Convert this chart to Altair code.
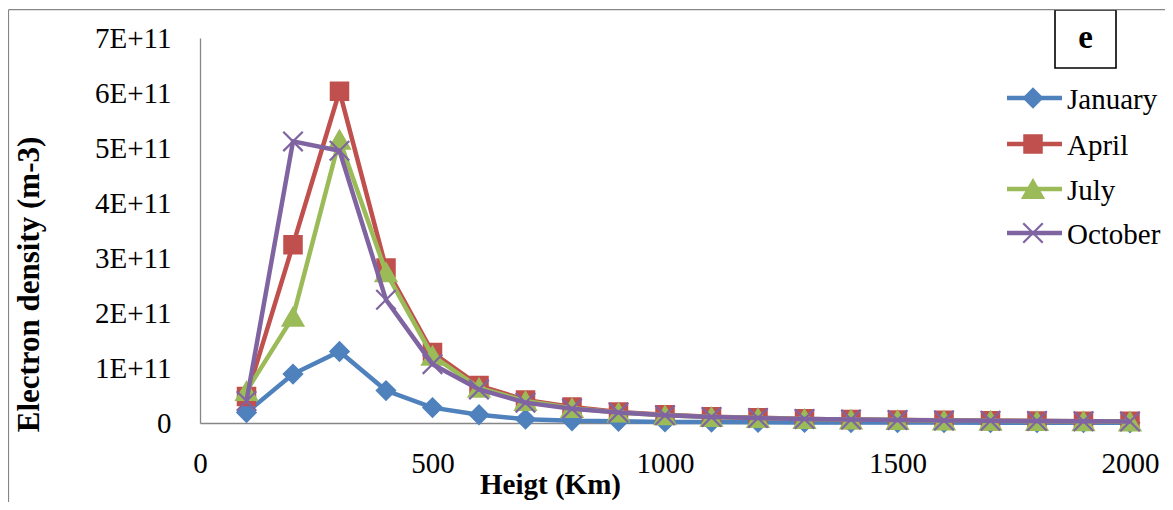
import altair as alt
import pandas as pd

# ---------------- data (electron density in units of 1E+11 m-3) ----------------
heights = [100, 200, 300, 400, 500, 600, 700, 800, 900, 1000,
           1100, 1200, 1300, 1400, 1500, 1600, 1700, 1800, 1900, 2000]
months = ["January", "April", "July", "October"]
january = [0.19, 0.89, 1.30, 0.59, 0.28, 0.15, 0.07, 0.04, 0.03, 0.02,
           0.016, 0.013, 0.011, 0.009, 0.008, 0.007, 0.006, 0.005, 0.005, 0.004]
april = [0.48, 3.24, 6.03, 2.82, 1.28, 0.68, 0.42, 0.29, 0.20, 0.15,
         0.115, 0.095, 0.075, 0.065, 0.055, 0.048, 0.042, 0.037, 0.033, 0.030]
july = [0.58, 1.93, 5.15, 2.74, 1.22, 0.64, 0.40, 0.27, 0.19, 0.14,
        0.11, 0.09, 0.072, 0.062, 0.053, 0.046, 0.040, 0.035, 0.031, 0.028]
october = [0.40, 5.12, 4.95, 2.24, 1.07, 0.61, 0.37, 0.26, 0.19, 0.14,
           0.11, 0.09, 0.072, 0.062, 0.053, 0.046, 0.040, 0.035, 0.031, 0.028]
series_values = [january, april, july, october]

colors = ["#4F81BD", "#C0504D", "#9BBB59", "#8064A2"]
shapes = ["diamond", "square", "triangle-up", "M-1,-1L1,1M-1,1L1,-1"]
marker_sizes = [330, 300, 420, 380]
y_ticks = [0, 1, 2, 3, 4, 5, 6, 7]
x_ticks = [0, 500, 1000, 1500, 2000]
panel_label = "e"
x_title = "Heigt (Km)"
y_title = "Electron density (m-3)"

rows = []
for m, vals in zip(months, series_values):
    for h, v in zip(heights, vals):
        rows.append({"month": m, "height": h, "density": v})
df = pd.DataFrame(rows)
legend_df = pd.DataFrame({"month": months})

FONT = "'Liberation Serif', 'Times New Roman', serif"
W, H = 930, 385
AXIS_GREY = "#868686"

x_enc = alt.X(
    "height:Q",
    scale=alt.Scale(domain=[0, 2000], nice=False, zero=False),
    axis=alt.Axis(
        values=x_ticks, format="d", title=x_title, grid=False, ticks=False,
        domainColor=AXIS_GREY, domainWidth=1.3,
        labelFont=FONT, labelFontSize=29, labelColor="black",
        labelPadding=26, labelFlush=False,
        titleFont=FONT, titleFontSize=29, titleFontWeight="bold",
        titleColor="black", titleX=350, titleY=70,
        titleBaseline="alphabetic", titleAlign="center",
    ),
)
y_enc = alt.Y(
    "density:Q",
    scale=alt.Scale(domain=[0, 7], nice=False),
    axis=alt.Axis(
        values=y_ticks, title=y_title, grid=False, ticks=False,
        domainColor=AXIS_GREY, domainWidth=1.3,
        labelExpr="datum.value == 0 ? '0' : datum.value + 'E+11'",
        labelFont=FONT, labelFontSize=29, labelColor="black",
        labelPadding=29,
        titleFont=FONT, titleFontSize=31, titleFontWeight="bold",
        titleColor="black", titleX=-162, titleY=246, titleAngle=270,
        titleBaseline="alphabetic", titleAlign="center",
    ),
)
color_enc = alt.Color("month:N", scale=alt.Scale(domain=months, range=colors), legend=None)
stroke_enc = alt.Stroke("month:N", scale=alt.Scale(domain=months, range=colors), legend=None)
shape_enc = alt.Shape("month:N", scale=alt.Scale(domain=months, range=shapes), legend=None)

layers = []
for i, m in enumerate(months):
    base = alt.Chart(df).transform_filter(alt.datum.month == m)
    layers.append(base.mark_line(strokeWidth=4.5).encode(x=x_enc, y=y_enc, color=color_enc))
    layers.append(
        base.mark_point(filled=True, opacity=1, strokeWidth=2.2, size=marker_sizes[i]).encode(
            x=x_enc, y=y_enc, fill=color_enc, stroke=stroke_enc, shape=shape_enc
        )
    )

# ---------------- manual legend ----------------
legend_rows = [60, 106, 151, 195]
for i, m in enumerate(months):
    lb = alt.Chart(legend_df).transform_filter(alt.datum.month == m)
    layers.append(
        lb.mark_rule(strokeWidth=4.5, color=colors[i]).encode(
            x=alt.value(807), x2=alt.value(862), y=alt.value(legend_rows[i])
        )
    )
    layers.append(
        lb.mark_point(filled=True, opacity=1, strokeWidth=2.2, size=marker_sizes[i],
                      shape=shapes[i], fill=colors[i], stroke=colors[i]).encode(
            x=alt.value(833), y=alt.value(legend_rows[i])
        )
    )
    layers.append(
        lb.mark_text(font=FONT, fontSize=29, align="left", baseline="middle", color="black").encode(
            x=alt.value(867), y=alt.value(legend_rows[i] + 2), text="month:N"
        )
    )

# ---------------- panel label box ----------------
label_df = pd.DataFrame({"label": [panel_label]})
layers.append(
    alt.Chart(label_df).mark_rect(fill="white", stroke="black", strokeWidth=1.6).encode(
        x=alt.value(855), x2=alt.value(916), y=alt.value(-28), y2=alt.value(30)
    )
)
layers.append(
    alt.Chart(label_df).mark_text(font=FONT, fontSize=33, fontWeight="bold", color="black",
                                  align="center", baseline="middle").encode(
        x=alt.value(885.5), y=alt.value(0), text="label:N"
    )
)

# ---------------- outer frame (top and left edges visible) ----------------
layers.append(
    alt.Chart(label_df).mark_rule(color=AXIS_GREY, strokeWidth=1.2).encode(
        x=alt.value(-191.5), x2=alt.value(965), y=alt.value(-28.3)
    )
)
layers.append(
    alt.Chart(label_df).mark_rule(color=AXIS_GREY, strokeWidth=1.2).encode(
        x=alt.value(-191.5), y=alt.value(-28.3), y2=alt.value(470)
    )
)

chart = (
    alt.layer(*layers)
    .properties(
        width=W, height=H,
        autosize=alt.AutoSizeParams(type="none"),
        padding={"left": 192, "top": 30, "right": 35, "bottom": 79},
        background="white",
    )
    .configure_view(stroke=None)
)

chart.save("out.html", embed_options={"renderer": "svg", "actions": False})
